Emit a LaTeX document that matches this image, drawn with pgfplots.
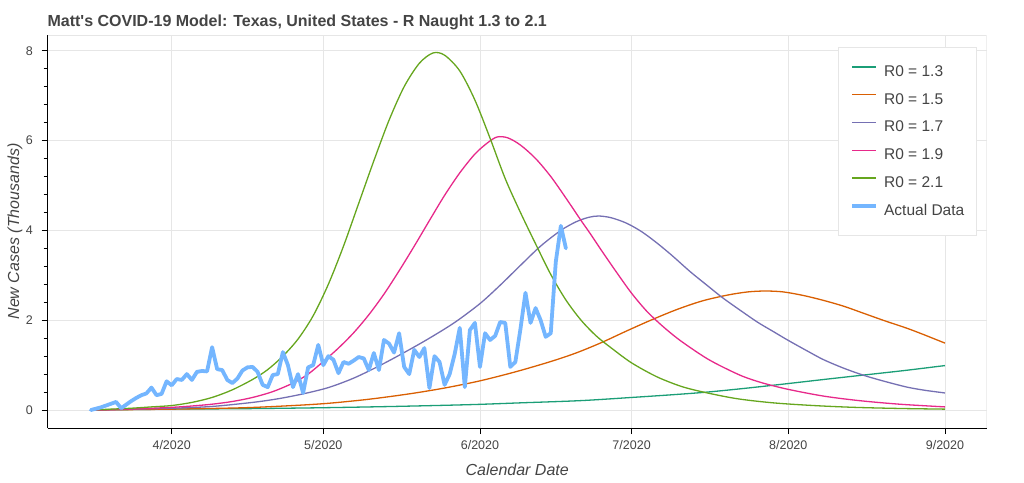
\documentclass[border=0pt]{standalone}
\usepackage{fontspec}
\setmainfont{Liberation Sans}
\usepackage{pgfplots}
\pgfplotsset{compat=1.18}
\definecolor{mteal}{HTML}{1B9E77}
\definecolor{morange}{HTML}{D95F02}
\definecolor{mpurple}{HTML}{7570B3}
\definecolor{mpink}{HTML}{E7298A}
\definecolor{mgreen}{HTML}{66A61E}
\definecolor{actual}{RGB}{116,182,255}
\definecolor{txt}{HTML}{444444}
\definecolor{gridc}{HTML}{E6E6E6}
\begin{document}
\begin{tikzpicture}[x=1pt,y=1pt]
\useasboundingbox (0,0) rectangle (1024,482);
\begin{axis}[
  at={(47.7pt,54pt)}, anchor=south west,
  scale only axis, width=939pt, height=393pt,
  xmin=6.47, xmax=192.26, ymin=-0.4, ymax=8.35,
  axis lines=left, axis line style={-, black, line width=1pt},
  xtick={31,61,92,122,153,184},
  xticklabels={4/2020,5/2020,6/2020,7/2020,8/2020,9/2020},
  ytick={0,2,4,6,8}, minor y tick num=4, minor x tick num=0,
  tick align=outside, major tick length=6pt, minor tick length=4pt,
  tick style={black, line width=0.9pt},
  grid=major, major grid style={gridc, line width=0.9pt},
  ticklabel style={font=\fontsize{12.5}{14}\selectfont, text=txt},
  xticklabel shift=3pt,
  yticklabel style={inner sep=0pt},
  yticklabel shift=8.7pt,
  /pgf/number format/assume math mode=true,
  title={Matt\textquotesingle s COVID-19 Model: Texas, United States - R Naught 1.3 to 2.1},
  title style={at={(rel axis cs:0,1)}, anchor=base west, xshift=-0.3pt, yshift=2.5pt,
    font=\bfseries\fontsize{16}{19}\selectfont, text=txt, inner sep=0pt},
  xlabel={Calendar Date},
  every axis x label/.style={at={(rel axis cs:0.5,0)}, anchor=base, yshift=-47pt,
    font=\itshape\fontsize{16}{19}\selectfont, text=txt, inner sep=0pt},
  ylabel={New Cases (Thousands)},
  every axis y label/.style={at={(rel axis cs:0,0.5)}, xshift=-32.7pt, rotate=90, anchor=center,
    font=\itshape\fontsize{16}{19}\selectfont, text=txt, inner sep=0pt},
  legend style={at={(rel axis cs:1,1)}, anchor=north east, xshift=-10pt, yshift=-12.3pt,
    draw=gridc, fill=white, line width=0.9pt, font=\fontsize{15.5}{18}\selectfont, text=txt,
    inner xsep=12pt, inner ysep=17.5pt, row sep=13.8pt, column sep=6pt,
    nodes={inner sep=0pt, text height=11pt, text depth=3pt}},
  legend cell align=left,
  legend image code/.code={\draw[#1, line cap=butt] (0pt,5.3pt) -- (24pt,5.3pt);},
]
\draw[gridc, line width=0.9pt] (rel axis cs:0,1) -- (rel axis cs:1,1) -- (rel axis cs:1,0);

\addplot[mteal, line width=1.3pt, smooth] coordinates {
(15,0) (31,0.02) (45,0.03) (60,0.05) (75,0.08) (90,0.12) (100,0.16) (112,0.21)
(122,0.28) (130,0.34) (137,0.40) (145,0.49) (153,0.59) (160,0.68) (168,0.78)
(176,0.88) (184,0.99)};
\addlegendentry{R0 = 1.3}

\addplot[morange, line width=1.3pt, smooth] coordinates {
(15,0) (31,0.02) (45,0.05) (55,0.10) (62,0.15) (70,0.24) (78,0.36) (85,0.49)
(92,0.65) (99,0.85) (106,1.08) (111,1.27) (116,1.50) (121,1.76) (126,2.01)
(131,2.24) (136,2.43) (141,2.56) (145,2.63) (148.5,2.65) (152,2.63) (156,2.55)
(160,2.44) (164,2.31) (168,2.15) (172,1.99) (176.5,1.82) (180,1.67) (184,1.49)};
\addlegendentry{R0 = 1.5}

\addplot[mpurple, line width=1.3pt, smooth] coordinates {
(15,0) (23,0.02) (31,0.04) (39,0.08) (47,0.17) (52,0.25) (57,0.36) (62,0.50)
(67,0.71) (72,0.98) (77,1.28) (82,1.60) (87,1.95) (92,2.37) (96,2.78) (100,3.22)
(104,3.65) (108,4.00) (111,4.19) (113.5,4.29) (115.5,4.32) (118,4.28) (121,4.16)
(124,3.97) (127,3.72) (130,3.44) (133.6,3.08) (137,2.77) (140,2.50) (143.5,2.22)
(147,1.95) (150,1.75) (153,1.55) (157,1.30) (160,1.12) (164,0.93) (168,0.77)
(172,0.64) (176.5,0.51) (180,0.44) (184,0.38)};
\addlegendentry{R0 = 1.7}

\addplot[mpink, line width=1.3pt, smooth] coordinates {
(15,0) (20,0.01) (25,0.03) (31,0.06) (35,0.09) (39,0.13) (43,0.19) (47,0.28)
(51,0.41) (55,0.60) (58,0.80) (61,1.08) (64,1.38) (67,1.72) (70,2.12) (73,2.58)
(76,3.10) (79,3.65) (82,4.22) (85,4.78) (88,5.28) (91,5.70) (93.5,5.95) (95.4,6.08)
(97.5,6.06) (100,5.90) (103,5.60) (106,5.20) (109,4.72) (112,4.22) (113.8,3.93)
(116,3.56) (119,3.07) (122,2.60) (125,2.20) (128,1.88) (131,1.60) (134,1.36)
(137,1.14) (140,0.96) (144,0.75) (148,0.60) (153,0.46) (160,0.31) (167,0.21)
(175,0.13) (184,0.07)};
\addlegendentry{R0 = 1.9}

\addplot[mgreen, line width=1.3pt, smooth] coordinates {
(15,0) (19,0.02) (23,0.04) (27,0.07) (31,0.10) (35,0.17) (39,0.28) (43,0.45)
(47,0.68) (50,0.90) (53,1.20) (56,1.58) (59,2.10) (62,2.80) (65,3.65) (68,4.60)
(71,5.55) (74,6.45) (77,7.20) (80,7.72) (82.7,7.95) (85,7.90) (88,7.55) (91,6.90)
(94,6.05) (97,5.15) (100,4.40) (103,3.70) (106,3.02) (109,2.45) (112,2.00)
(115,1.65) (118,1.38) (122,1.05) (127,0.74) (132,0.52) (137,0.38) (143,0.25)
(150,0.16) (158,0.10) (166,0.06) (175,0.035) (184,0.02)};
\addlegendentry{R0 = 2.1}

\addplot[actual, line width=3.8pt, line join=round, line cap=round] coordinates {
(15,0.00) (16,0.03) (17,0.06) (18,0.10) (19,0.14) (20,0.18) (21,0.04) (22,0.12)
(23,0.20) (24,0.27) (25,0.33) (26,0.37) (27,0.50) (28,0.33) (29,0.36) (30,0.64)
(31,0.55) (32,0.69) (33,0.67) (34,0.80) (35,0.67) (36,0.85) (37,0.87) (38,0.86)
(39,1.40) (40,0.91) (41,0.89) (42,0.67) (43,0.60) (44,0.70) (45,0.88) (46,0.95)
(47,0.96) (48,0.85) (49,0.56) (50,0.51) (51,0.78) (52,0.80) (53,1.29) (54,1.00)
(55,0.51) (56,0.80) (57,0.38) (58,0.95) (59,1.00) (60,1.45) (61,1.00) (62,1.20)
(63,1.12) (64,0.82) (65,1.07) (66,1.03) (67,1.10) (68,1.18) (69,1.15) (70,0.89)
(71,1.27) (72,0.89) (73,1.56) (74,1.48) (75,1.28) (76,1.71) (77,0.96) (78,0.80)
(79,1.34) (80,1.18) (81,1.38) (82,0.49) (83,1.20) (84,1.07) (85,0.56) (86,0.80)
(87,1.25) (88,1.83) (89,0.51) (90,1.78) (91,1.94) (92,0.96) (93,1.71) (94,1.56)
(95,1.65) (96,1.96) (97,1.94) (98,0.96) (99,1.07) (100,1.80) (101,2.61) (102,1.94)
(103,2.27) (104,2.00) (105,1.63) (106,1.71) (107,3.30) (108,4.10) (109,3.60)};
\addlegendentry{Actual Data}
\end{axis}
\end{tikzpicture}
\end{document}
